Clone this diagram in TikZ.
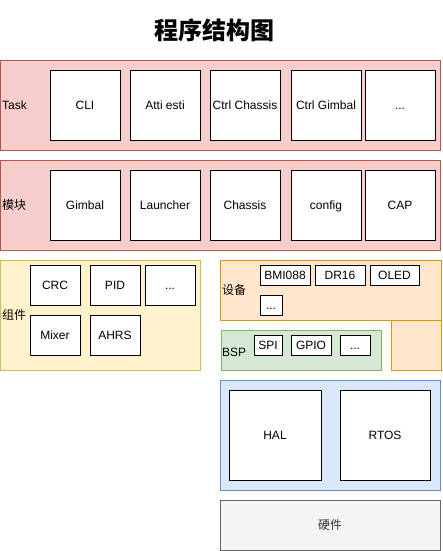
\documentclass[tikz,border=0pt]{standalone}
\usepackage{fontspec}
\setmainfont{Liberation Sans}
\newfontfamily\cjk{Noto Sans CJK SC}
\definecolor{TaskFill}{HTML}{F8CECC}
\definecolor{TaskLine}{HTML}{B85450}
\definecolor{PartFill}{HTML}{FFF2CC}
\definecolor{PartLine}{HTML}{D6B656}
\definecolor{DevFill}{HTML}{FFE6CC}
\definecolor{DevLine}{HTML}{D79B00}
\definecolor{BspFill}{HTML}{D5E8D4}
\definecolor{BspLine}{HTML}{82B366}
\definecolor{HalFill}{HTML}{DAE8FC}
\definecolor{HalLine}{HTML}{6C8EBF}
\definecolor{HwFill}{HTML}{F5F5F5}
\definecolor{HwLine}{HTML}{666666}
\definecolor{HwText}{HTML}{333333}

\begin{document}
\begin{tikzpicture}[x=1pt,y=-1pt,
  layer/.style={draw,line width=1pt,inner sep=0pt},
  box/.style={draw=black,fill=white,line width=1pt,inner sep=0pt,
    text height=9pt,text depth=0pt,font=\fontsize{12}{14}\selectfont},
  tag/.style={anchor=west,inner sep=0pt,font=\fontsize{12}{14}\selectfont}]
\useasboundingbox (0,0) rectangle (442,551);

\node[font=\cjk\bfseries\fontsize{24}{26}\selectfont] (title) at (214,30) {程序结构图};

% Task
\node[layer,fill=TaskFill,draw=TaskLine,minimum width=440,minimum height=89] (task) at (220,105.5) {};
\node[tag] (tasklbl) at (2,105) {Task};
\node[box,minimum width=70,minimum height=70] (cli) at (85,105) {CLI};
\node[box,minimum width=70,minimum height=70] (atti) at (165,105) {Atti esti};
\node[box,minimum width=70,minimum height=70] (ctrlc) at (245,105) {Ctrl Chassis};
\node[box,minimum width=70,minimum height=70] (ctrlg) at (326,105) {Ctrl Gimbal};
\node[box,minimum width=70,minimum height=70] (more1) at (400,105) {...};

% modules
\node[layer,fill=TaskFill,draw=TaskLine,minimum width=440,minimum height=90] (module) at (220,205) {};
\node[tag,font=\cjk\fontsize{12}{14}\selectfont] (modlbl) at (2,205) {模块};
\node[box,minimum width=70,minimum height=70] (gimbal) at (85,205) {Gimbal};
\node[box,minimum width=70,minimum height=70] (launch) at (165,205) {Launcher};
\node[box,minimum width=70,minimum height=70] (chassis) at (245,205) {Chassis};
\node[box,minimum width=70,minimum height=70] (config) at (326,205) {config};
\node[box,minimum width=70,minimum height=70] (cap) at (400,205) {CAP};

% components
\node[layer,fill=PartFill,draw=PartLine,minimum width=200,minimum height=110] (part) at (100,315) {};
\node[tag,font=\cjk\fontsize{12}{14}\selectfont] (partlbl) at (2,315) {组件};
\node[box,minimum width=50,minimum height=40] (crc) at (55,285) {CRC};
\node[box,minimum width=50,minimum height=40] (pid) at (115,285) {PID};
\node[box,minimum width=50,minimum height=40] (more2) at (170,285) {...};
\node[box,minimum width=50,minimum height=40] (mixer) at (55,335) {Mixer};
\node[box,minimum width=50,minimum height=40] (ahrs) at (115,335) {AHRS};

% devices
\node[layer,fill=DevFill,draw=DevLine,minimum width=50,minimum height=50] (devtail) at (416,345) {};
\node[layer,fill=DevFill,draw=DevLine,minimum width=221,minimum height=60] (dev) at (330.5,290) {};
\node[tag,font=\cjk\fontsize{12}{14}\selectfont] (devlbl) at (222,290) {设备};
\node[box,minimum width=50,minimum height=20] (bmi) at (285,275) {BMI088};
\node[box,minimum width=50,minimum height=20] (dr16) at (340,275) {DR16};
\node[box,minimum width=49,minimum height=20] (oled) at (394.5,275) {OLED};
\node[box,minimum width=22,minimum height=20] (more3) at (271,305) {...};

% BSP
\node[layer,fill=BspFill,draw=BspLine,minimum width=160,minimum height=40] (bsp) at (301,350) {};
\node[tag] (bsplbl) at (222,352) {BSP};
\node[box,minimum width=28,minimum height=20] (spi) at (268,345) {SPI};
\node[box,minimum width=40,minimum height=20] (gpio) at (311,345) {GPIO};
\node[box,minimum width=30,minimum height=20] (more4) at (355,345) {...};

% HAL / RTOS
\node[layer,fill=HalFill,draw=HalLine,minimum width=220,minimum height=110] (hal) at (330,435) {};
\node[box,minimum width=92,minimum height=90] (halbox) at (275,435) {HAL};
\node[box,minimum width=90,minimum height=90] (rtos) at (385,435) {RTOS};

% hardware
\node[layer,fill=HwFill,draw=HwLine,text=HwText,minimum width=220,minimum height=50,
  font=\cjk\fontsize{12}{14}\selectfont] (hw) at (330,525) {硬件};

\end{tikzpicture}
\end{document}
